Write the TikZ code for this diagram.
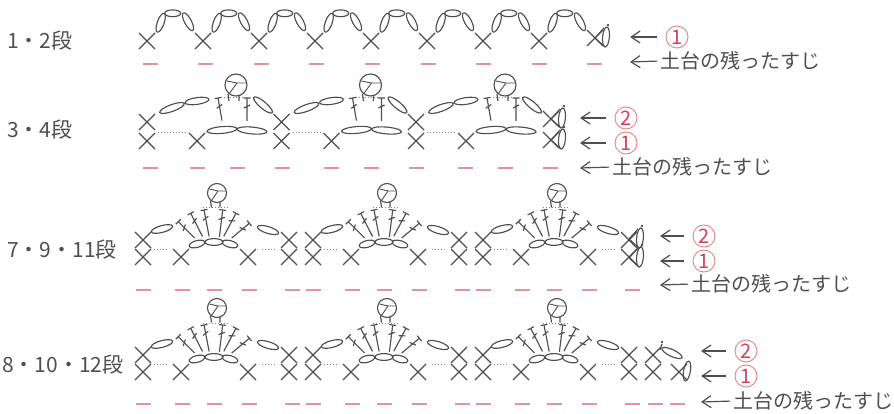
\documentclass[tikz,border=0pt]{standalone}
\usepackage{fontspec}
\setmainfont{Noto Sans CJK JP}
\usetikzlibrary{arrows.meta}
\definecolor{inkgray}{HTML}{4F4F4F}
\definecolor{dashpink}{HTML}{E2939F}
\definecolor{ringpink}{HTML}{E28C94}
\definecolor{numred}{HTML}{D2405E}
\tikzset{
  stitch/.style={draw=inkgray,line width=1.15pt},
  slipdots/.style={draw=inkgray!70,line width=1pt,dotted},
  strand/.style={draw=dashpink,line width=1.5pt},
  pointer/.style={draw=inkgray,line width=1.2pt,shorten <=9pt,-{Straight Barb[length=9pt,width=12pt]}},
  rowlabel/.style={text=inkgray,font=\fontsize{21}{21}\selectfont,anchor=west,inner sep=0pt},
  strandlabel/.style={text=inkgray,font=\fontsize{20}{20}\selectfont,anchor=west,inner sep=0pt},
  ringnum/.style={circle,draw=ringpink,line width=1pt,text=numred,minimum size=22pt,inner sep=0pt,font=\fontsize{20}{20}\selectfont}
}
\newcommand{\crossst}[2]{\draw[stitch] (#1-8,#2-8) -- (#1+8,#2+8) (#1-8,#2+8) -- (#1+8,#2-8);}
\newcommand{\chainst}[4]{\draw[stitch,shift={(#1,#2)},rotate=#3] (0,0) ellipse[x radius=#4,y radius=3.4];}
\newcommand{\trst}[4]{\begin{scope}[shift={(#1,#2)},rotate=#3]
    \draw[stitch] (0,0) -- (-#4,0) (0,-3.5) -- (0,3.5) (-10,-3) -- (-7,3);
  \end{scope}}
\newcommand{\headst}[3]{\begin{scope}[shift={(#1,#2)}]
    \draw[stitch] (0,0) circle (#3);
    \draw[stitch,line width=0.9pt] (-#3+2,-4) -- (1,-2) -- (#3-1,-2);
    \draw[stitch,line width=0.9pt] (-#3+4,#3-2) -- (1,-2);
    \draw[stitch] (-#3+3,#3-2) -- (-#3+4,#3+5) (3,#3-1) -- (3,#3+5);
  \end{scope}}
\newcommand{\lastfan}[2]{\begin{scope}[shift={(#1,#2)}]
    \draw[stitch] (0,0) -- (9,-10);
    \draw[stitch] (0,0) -- (10,9);
    \chainst{11}{-1}{85}{10}
    \fill[inkgray] (13,-13) circle (1.3);
  \end{scope}}
\newcommand{\fanshell}{
  \crossst{0}{0} \crossst{0}{17} \crossst{38}{17} \crossst{105}{17}
  \crossst{146}{0} \crossst{146}{17}
  \draw[slipdots] (11,9) -- (26,9) (119,9) -- (133,9);
  \chainst{19}{-11}{15}{11} \chainst{125}{-10}{-17}{11}
  \chainst{54}{4}{15}{8} \chainst{71}{2}{0}{9} \chainst{87}{4}{-15}{8}
  \trst{35.3}{-18.3}{135}{23} \trst{47.7}{-26.7}{117}{26} \trst{61}{-30}{101}{27}
  \trst{79.7}{-30}{83}{27} \trst{93}{-26.7}{62}{26} \trst{106.3}{-16.7}{40}{23}
  \draw[slipdots] (60,-32) -- (85,-32);
  \headst{74}{-47}{9.5}
}
\begin{document}
\begin{tikzpicture}[x=1pt,y=-1pt]
  \useasboundingbox (0,0) rectangle (894,414);
  % Rounds 1 and 2
  \node[rowlabel] (rowa) at (7,41) {1・2段};
  \begin{scope}[shift={(147,41)}]
    \foreach \k in {0,...,7} {
      \begin{scope}[xshift=56*\k]
        \crossst{0}{0}
        \chainst{13.7}{-18.3}{70}{10} \chainst{25.7}{-27.7}{0}{8} \chainst{41}{-19.3}{-62}{10}
      \end{scope}
    }
    \crossst{448}{-3}
  \end{scope}
  \lastfan{595}{38}
  \foreach \k in {0,...,8} \draw[strand] (142.5+55.6*\k,64) -- (157.5+55.6*\k,64);
  \node[ringnum] (ringa) at (677,37) {1};
  \coordinate (tipa) at (630,37);
  \draw[pointer] (ringa.west) -- (tipa);
  \node[strandlabel] (resta) at (660,61) {土台の残ったすじ};
  \coordinate (tipb) at (630,62);
  \draw[pointer,shorten <=3pt] (resta.west) -- (tipb);
  % Rounds 3 and 4
  \node[rowlabel] (rowb) at (7,130) {3・4段};
  \begin{scope}[shift={(147,122)}]
    \foreach \k in {0,1,2} {
      \begin{scope}[xshift=134.5*\k]
        \crossst{0}{0} \crossst{0}{19} \crossst{50}{19}
        \draw[slipdots] (11,11) -- (40,11);
        \chainst{25}{-14}{20}{13} \chainst{50}{-21}{8}{12}
        \trst{71}{-24}{100}{23} \trst{100}{-24}{90}{23}
        \chainst{75}{8}{5}{15} \chainst{105}{8.5}{-5}{15}
        \chainst{116}{-17}{-40}{12}
        \draw[slipdots] (74,-24) -- (97,-24);
        \headst{89}{-37}{11}
      \end{scope}
    }
    \crossst{404}{-3} \crossst{404}{18}
  \end{scope}
  \lastfan{551}{119}
  \lastfan{551}{140}
  \foreach \x in {150,197,237,282,331,371,416,465,505,550} \draw[strand] (\x-7.5,168) -- (\x+7.5,168);
  \node[ringnum] (ringb) at (626,118) {2};
  \coordinate (tipc) at (580,118);
  \draw[pointer] (ringb.west) -- (tipc);
  \node[ringnum] (ringc) at (626,143) {1};
  \coordinate (tipd) at (580,143);
  \draw[pointer] (ringc.west) -- (tipd);
  \node[strandlabel] (restb) at (612,167) {土台の残ったすじ};
  \coordinate (tipe) at (580,168);
  \draw[pointer,shorten <=3pt] (restb.west) -- (tipe);
  % Rounds 7, 9 and 11
  \node[rowlabel] (rowc) at (7,250) {7・9・11段};
  \foreach \k in {0,1,2} {
    \begin{scope}[shift={(143+170*\k,240)}]
      \fanshell
    \end{scope}
    \foreach \x in {136,175,207,242,285} \draw[strand] (\x+170*\k,290) -- (\x+170*\k+15,290);
  }
  \lastfan{629}{239}
  \lastfan{629}{258}
  \node[ringnum] (ringd) at (704,236) {2};
  \coordinate (tipf) at (660,236);
  \draw[pointer] (ringd.west) -- (tipf);
  \node[ringnum] (ringe) at (704,261) {1};
  \coordinate (tipg) at (660,261);
  \draw[pointer] (ringe.west) -- (tipg);
  \node[strandlabel] (restc) at (691,284) {土台の残ったすじ};
  \coordinate (tiph) at (660,285);
  \draw[pointer,shorten <=3pt] (restc.west) -- (tiph);
  % Rounds 8, 10 and 12
  \node[rowlabel] (rowd) at (2,365) {8・10・12段};
  \foreach \k in {0,1,2} {
    \begin{scope}[shift={(143+170*\k,355)}]
      \fanshell
    \end{scope}
    \foreach \x in {136,175,207,242,285} \draw[strand] (\x+170*\k,404) -- (\x+170*\k+15,404);
  }
  \crossst{653}{355} \crossst{653}{372} \crossst{679}{372}
  \chainst{672}{353}{-25}{11}
  \chainst{687}{371}{80}{10}
  \fill[inkgray] (662,342) circle (1.3);
  \draw[stitch] (662,344) -- (660,350);
  \draw[strand] (648,404) -- (663,404) (670,404) -- (685,404);
  \node[ringnum] (ringf) at (746,351) {2};
  \coordinate (tipi) at (701,351);
  \draw[pointer] (ringf.west) -- (tipi);
  \node[ringnum] (ringg) at (746,376) {1};
  \coordinate (tipj) at (701,376);
  \draw[pointer] (ringg.west) -- (tipj);
  \node[strandlabel] (restd) at (733,401) {土台の残ったすじ};
  \coordinate (tipk) at (701,402);
  \draw[pointer,shorten <=3pt] (restd.west) -- (tipk);
\end{tikzpicture}
\end{document}
